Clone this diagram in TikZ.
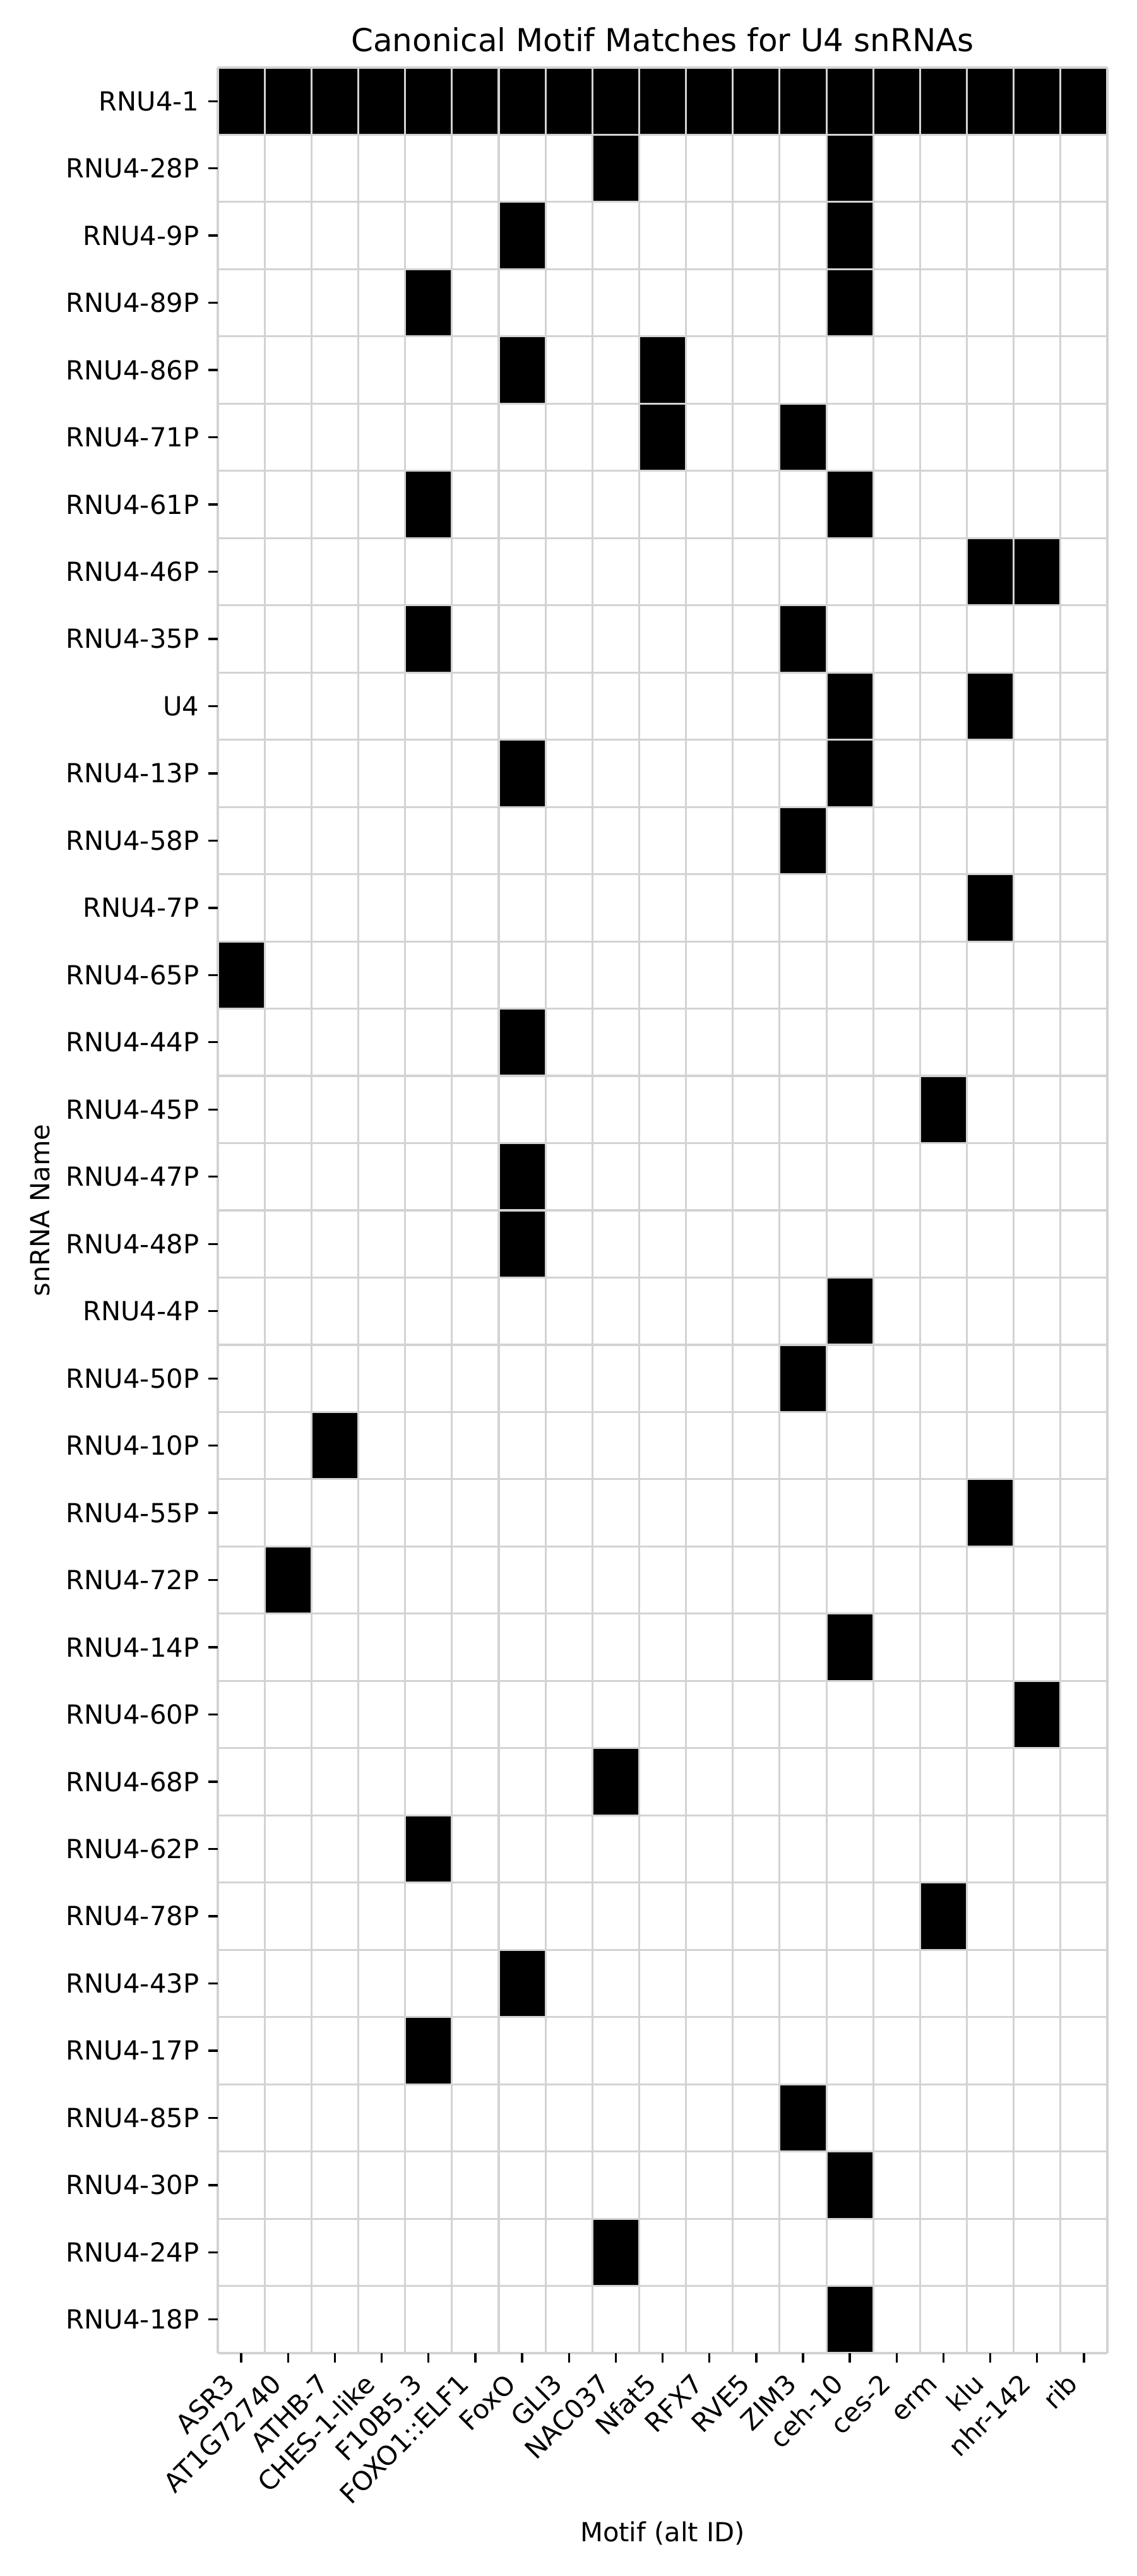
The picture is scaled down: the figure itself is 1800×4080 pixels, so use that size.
\documentclass[tikz,border=0pt]{standalone}
\usepackage{fontspec}
\setmainfont{DejaVu Sans}
\definecolor{gridgray}{RGB}{211,211,211}
\begin{document}
\begin{tikzpicture}[x=0.24pt,y=-0.24pt,
  cellfill/.style={fill=black},
  gridline/.style={draw=gridgray,line width=0.75pt},
  tickmark/.style={draw=black,line width=0.8pt},
  ticklab/.style={inner sep=0pt,font=\fontsize{10}{12}\selectfont},
  axlab/.style={inner sep=0pt,font=\fontsize{10}{12}\selectfont},
  titlelab/.style={inner sep=0pt,font=\fontsize{12}{14.4}\selectfont}]
\def\gx{345}\def\gy{107}\def\cw{74.158}\def\rh{106.47}
\fill[white] (0,0) rectangle (1800,4080);
\useasboundingbox (0,0) rectangle (1800,4080);
% black cells
\foreach \c in {0,...,18}
  \fill[cellfill] ({\gx+\c*\cw},{\gy}) rectangle ++(\cw,\rh);
\foreach \r/\c in {1/8,1/13,2/6,2/13,3/4,3/13,4/6,4/9,5/9,5/12,6/4,6/13,7/16,7/17,
  8/4,8/12,9/13,9/16,10/6,10/13,11/12,12/16,13/0,14/6,15/15,16/6,17/6,18/13,19/12,
  20/2,21/16,22/1,23/13,24/17,25/8,26/4,27/15,28/6,29/4,30/12,31/13,32/8,33/13}
  \fill[cellfill] ({\gx+\c*\cw},{\gy+\r*\rh}) rectangle ++(\cw,\rh);
% grid lines
\foreach \c in {0,...,19}
  \draw[gridline] ({\gx+\c*\cw},{\gy}) -- ({\gx+\c*\cw},{\gy+34*\rh});
\foreach \r in {0,...,34}
  \draw[gridline] ({\gx},{\gy+\r*\rh}) -- ({\gx+19*\cw},{\gy+\r*\rh});
% y tick labels
\foreach \lab [count=\i from 0] in {RNU4-1,RNU4-28P,RNU4-9P,RNU4-89P,RNU4-86P,RNU4-71P,RNU4-61P,RNU4-46P,RNU4-35P,U4,RNU4-13P,RNU4-58P,RNU4-7P,RNU4-65P,RNU4-44P,RNU4-45P,RNU4-47P,RNU4-48P,RNU4-4P,RNU4-50P,RNU4-10P,RNU4-55P,RNU4-72P,RNU4-14P,RNU4-60P,RNU4-68P,RNU4-62P,RNU4-78P,RNU4-43P,RNU4-17P,RNU4-85P,RNU4-30P,RNU4-24P,RNU4-18P}{
  \coordinate (yt\i) at ({\gx},{\gy+(\i+0.5)*\rh});
  \draw[tickmark] (yt\i) -- ++(-14.6,0);
  \node[ticklab,anchor=base east] (yl\i) at ({\gx-29},{\gy+(\i+0.5)*\rh+15}) {\lab};
}
% x tick labels
\foreach \lab [count=\i from 0] in {ASR3,AT1G72740,ATHB-7,CHES-1-like,F10B5.3,FOXO1::ELF1,FoxO,GLI3,NAC037,Nfat5,RFX7,RVE5,ZIM3,ceh-10,ces-2,erm,klu,nhr-142,rib}{
  \coordinate (xt\i) at ({\gx+(\i+0.5)*\cw},{\gy+34*\rh});
  \draw[tickmark] (xt\i) -- ++(0,14.6);
  \node[ticklab,rotate=45,anchor=base east] (xl\i) at ({\gx+(\i+0.5)*\cw-6.9},3778.4) {\lab};
}
% titles
\node[titlelab,anchor=base] (title) at (1049.5,82) {Canonical Motif Matches for U4 snRNAs};
\node[axlab,anchor=base] (xlabel) at (1049.5,4025) {Motif (alt ID)};
\node[axlab,anchor=base,rotate=90] (ylabel) at (78,1917) {snRNA Name};
\end{tikzpicture}
\end{document}
